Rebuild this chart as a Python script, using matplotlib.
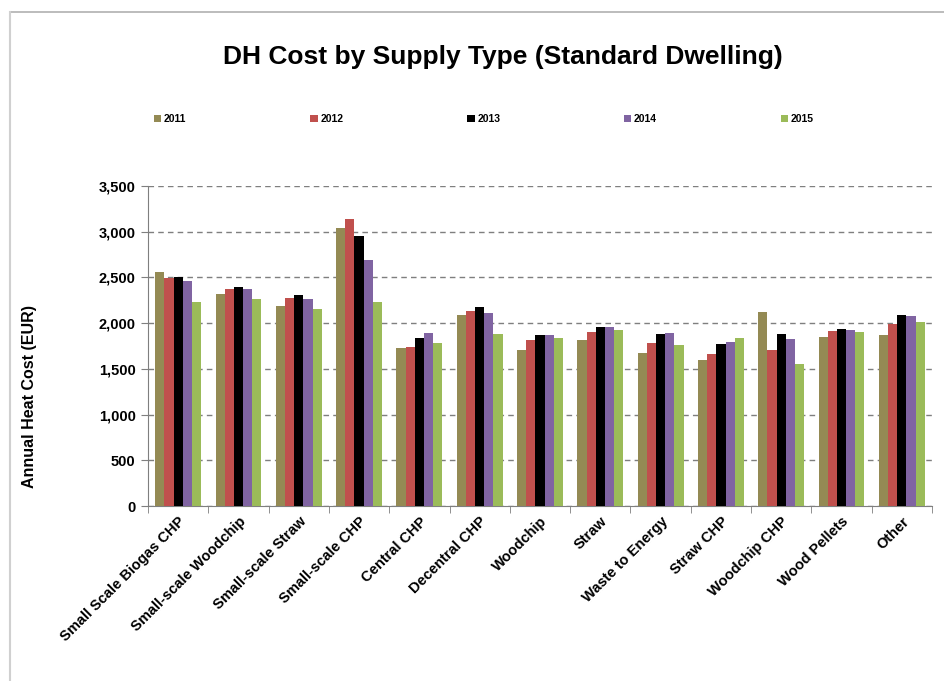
import numpy as np
import matplotlib.pyplot as plt
from matplotlib.lines import Line2D

plt.rcParams['font.family'] = ['Liberation Sans', 'DejaVu Sans']

categories = ["Small Scale Biogas CHP", "Small-scale Woodchip", "Small-scale Straw",
              "Small-scale CHP", "Central CHP", "Decentral CHP", "Woodchip", "Straw",
              "Waste to Energy", "Straw CHP", "Woodchip CHP", "Wood Pellets", "Other"]
years = ["2011", "2012", "2013", "2014", "2015"]
v2011 = [2563, 2322, 2191, 3044, 1732, 2085, 1703, 1812, 1677, 1593, 2126, 1852, 1870]
v2012 = [2490, 2377, 2279, 3143, 1743, 2133, 1812, 1903, 1783, 1666, 1703, 1914, 1994]
v2013 = [2508, 2399, 2308, 2957, 1841, 2180, 1874, 1962, 1885, 1768, 1885, 1940, 2085]
v2014 = [2461, 2370, 2264, 2691, 1896, 2115, 1874, 1962, 1892, 1798, 1830, 1921, 2078]
v2015 = [2231, 2268, 2155, 2231, 1783, 1885, 1838, 1921, 1761, 1838, 1553, 1900, 2016]
series = [v2011, v2012, v2013, v2014, v2015]
colors = ["#948A54", "#C0504D", "#000000", "#8064A2", "#9BBB59"]

fig = plt.figure(figsize=(9.44, 6.81), dpi=100)
ax = fig.add_axes([148 / 944, 1 - 506 / 681, 784 / 944, 320 / 681])

x = np.arange(len(categories))
w = 0.152
handles = []
for i, (vals, c, yr) in enumerate(zip(series, colors, years)):
    b = ax.bar(x + (i - 2) * w, vals, width=w, color=c, label=yr, zorder=3)
    handles.append(b)

ax.set_xlim(-0.5, len(categories) - 0.5)
ax.set_ylim(0, 3500)
ax.set_yticks(np.arange(0, 3501, 500))
ax.set_yticklabels([f"{v:,}" for v in range(0, 3501, 500)], fontsize=10.5, fontweight='bold')
ax.grid(axis='y', color='#7f7f7f', linestyle=(0, (4, 3)), linewidth=1, zorder=0)

ax.set_xticks(x)
ax.set_xticklabels(categories, rotation=45, ha='right', rotation_mode='anchor',
                   fontsize=10.5, fontweight='bold')
ax.set_xticks(np.arange(-0.5, len(categories), 1), minor=True)
ax.tick_params(axis='x', which='major', length=0, pad=6)
ax.tick_params(axis='x', which='minor', length=5, color='#7f7f7f')
ax.tick_params(axis='y', length=5, color='#7f7f7f', pad=4)

for s in ['top', 'right']:
    ax.spines[s].set_visible(False)
for s in ['left', 'bottom']:
    ax.spines[s].set_color('#7f7f7f')

fig.text(30 / 944, 1 - 396 / 681, "Annual Heat Cost (EUR)", rotation=90,
         ha='center', va='center', fontsize=11.5, fontweight='bold')
fig.text(503 / 944, 1 - 57 / 681, "DH Cost by Supply Type (Standard Dwelling)",
         ha='center', va='center', fontsize=19, fontweight='bold')

fig.legend(handles=handles, loc='lower left', ncol=5, mode='expand',
           bbox_to_anchor=(154 / 944, 1 - 124 / 681, 660 / 944, 12 / 681),
           frameon=False, handlelength=0.7, handleheight=0.7, handletextpad=0.25,
           borderaxespad=0, borderpad=0, prop={'size': 7.5, 'weight': 'bold'})

# chart frame (top and left edge)
fig.add_artist(Line2D([10 / 944, 1], [1 - 12 / 681] * 2, color='#b0b0b0', lw=1.2))
fig.add_artist(Line2D([10 / 944] * 2, [0, 1 - 12 / 681], color='#d0d0d0', lw=1.5))

fig.savefig("out.png", dpi=100)
